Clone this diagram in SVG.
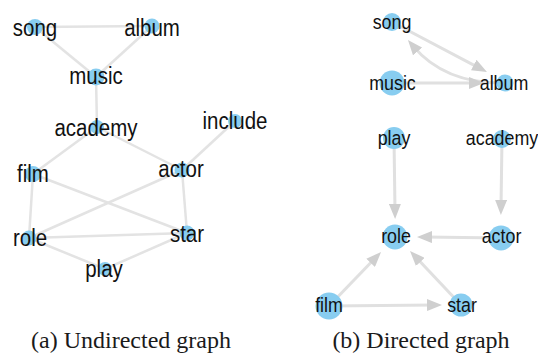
<svg xmlns="http://www.w3.org/2000/svg" width="538" height="354" viewBox="0 0 538 354">
<style>
.bg{fill:#ffffff}
.e{stroke:#e3e3e3;stroke-width:2.5;fill:none}
.d{stroke:#e0e0e0;stroke-width:3;fill:none;marker-end:url(#arr)}
.n{fill:#88cdf0}
.l{font-family:"Liberation Sans",Arial,sans-serif;font-size:23px;fill:#111;text-anchor:middle}
.r{font-family:"Liberation Sans",Arial,sans-serif;font-size:20.5px;fill:#111;text-anchor:middle}
.cap{font-family:"Liberation Serif","Times New Roman",serif;font-size:24px;fill:#1a1a1a;text-anchor:middle}
</style>
<defs>
<marker id="arr" markerUnits="userSpaceOnUse" markerWidth="16" markerHeight="12" refX="7" refY="6" orient="auto">
<path d="M0,0 L15,6 L0,12 z" fill="#cfcfcf"/>
</marker>
</defs>
<rect class="bg" x="0" y="0" width="538" height="354"/>

<!-- Undirected graph -->
<g id="edges-undirected">
<line class="e" x1="35" y1="27" x2="152" y2="26"/>
<line class="e" x1="35" y1="27" x2="96" y2="77"/>
<line class="e" x1="152" y1="26" x2="96" y2="77"/>
<line class="e" x1="96" y1="77" x2="97" y2="127"/>
<line class="e" x1="97" y1="127" x2="33" y2="174"/>
<line class="e" x1="97" y1="127" x2="182" y2="170"/>
<line class="e" x1="235" y1="121" x2="182" y2="170"/>
<line class="e" x1="33" y1="174" x2="29" y2="238"/>
<line class="e" x1="33" y1="174" x2="187" y2="233"/>
<line class="e" x1="182" y1="170" x2="29" y2="238"/>
<line class="e" x1="182" y1="170" x2="187" y2="233"/>
<line class="e" x1="29" y1="238" x2="187" y2="233"/>
<line class="e" x1="29" y1="238" x2="105" y2="269"/>
<line class="e" x1="105" y1="269" x2="187" y2="233"/>
</g>
<g id="u-song"><circle class="n" cx="35" cy="27" r="8"/><text class="l" transform="translate(35,36) scale(0.89,1)">song</text></g>
<g id="u-album"><circle class="n" cx="152" cy="26" r="7.5"/><text class="l" transform="translate(152,36) scale(0.89,1)">album</text></g>
<g id="u-music"><circle class="n" cx="96" cy="77" r="8.5"/><text class="l" transform="translate(96,84) scale(0.89,1)">music</text></g>
<g id="u-academy"><circle class="n" cx="97" cy="127" r="7"/><text class="l" transform="translate(96,136) scale(0.89,1)">academy</text></g>
<g id="u-include"><circle class="n" cx="235" cy="121" r="7"/><text class="l" transform="translate(235,129) scale(0.89,1)">include</text></g>
<g id="u-actor"><circle class="n" cx="182" cy="170" r="7.5"/><text class="l" transform="translate(181,177) scale(0.89,1)">actor</text></g>
<g id="u-film"><circle class="n" cx="33" cy="174" r="8"/><text class="l" transform="translate(33,182) scale(0.89,1)">film</text></g>
<g id="u-role"><circle class="n" cx="29" cy="238" r="7.5"/><text class="l" transform="translate(30,246) scale(0.89,1)">role</text></g>
<g id="u-star"><circle class="n" cx="187" cy="233" r="7.5"/><text class="l" transform="translate(187,242) scale(0.89,1)">star</text></g>
<g id="u-play"><circle class="n" cx="105" cy="269" r="7"/><text class="l" transform="translate(104,277) scale(0.89,1)">play</text></g>
<text class="cap" x="131" y="348">(a) Undirected graph</text>

<!-- Directed graph -->
<g id="edges-directed">
<line class="d" x1="392" y1="22" x2="479.9" y2="68.3"/>
<path class="d" d="M505,83 Q445,84 413.1,46.1"/>
<line class="d" x1="392" y1="83" x2="476" y2="83"/>
<line class="d" x1="394" y1="138" x2="395" y2="211"/>
<line class="d" x1="502" y1="139" x2="501" y2="207"/>
<line class="d" x1="501" y1="238" x2="425" y2="237"/>
<line class="d" x1="329" y1="306" x2="375.5" y2="257.8"/>
<line class="d" x1="461" y1="305" x2="415.5" y2="256.8"/>
<line class="d" x1="329" y1="306" x2="434" y2="305"/>
</g>
<g id="d-song"><circle class="n" cx="392" cy="22" r="9"/><text class="r" transform="translate(392,29) scale(0.87,1)">song</text></g>
<g id="d-music"><circle class="n" cx="392" cy="83" r="12.5"/><text class="r" transform="translate(392.5,90) scale(0.87,1)">music</text></g>
<g id="d-album"><circle class="n" cx="505" cy="83" r="8.5"/><text class="r" transform="translate(504,90) scale(0.87,1)">album</text></g>
<g id="d-play"><circle class="n" cx="394" cy="138" r="11"/><text class="r" transform="translate(394,145) scale(0.87,1)">play</text></g>
<g id="d-academy"><circle class="n" cx="502" cy="139" r="9"/><text class="r" transform="translate(502,145) scale(0.87,1)">academy</text></g>
<g id="d-role"><circle class="n" cx="395" cy="237" r="12.5"/><text class="r" transform="translate(396,243) scale(0.87,1)">role</text></g>
<g id="d-actor"><circle class="n" cx="501" cy="238" r="12.5"/><text class="r" transform="translate(501.5,243) scale(0.87,1)">actor</text></g>
<g id="d-film"><circle class="n" cx="329" cy="306" r="13.5"/><text class="r" transform="translate(329,312) scale(0.87,1)">film</text></g>
<g id="d-star"><circle class="n" cx="461" cy="305" r="11.5"/><text class="r" transform="translate(462,312) scale(0.87,1)">star</text></g>
<text class="cap" x="421" y="348">(b) Directed graph</text>
</svg>
